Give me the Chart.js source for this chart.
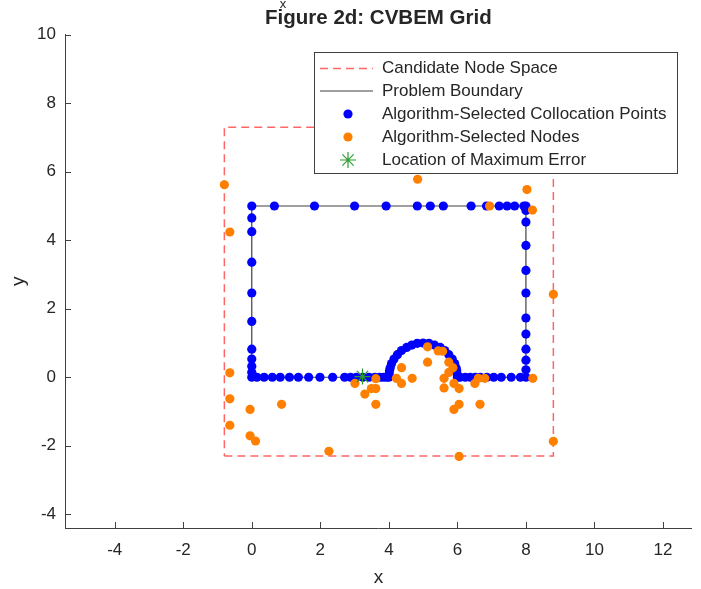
<!DOCTYPE html>
<html>
<head>
<meta charset="utf-8">
<script src="https://cdn.jsdelivr.net/npm/chart.js@4.4.1/dist/chart.umd.min.js"></script>
<style>
  html, body { margin: 0; padding: 0; background: #fff; }
  canvas { display: block; }
</style>
</head>
<body>
<canvas id="cvbemChart" width="701" height="589"></canvas>
<script>
// Ticks
const xTicks = [-4, -2, 0, 2, 4, 6, 8, 10, 12];
const yTicks = [-4, -2, 0, 2, 4, 6, 8, 10];

// Candidate node space (dashed square)
const candidateX = [-0.8, 8.8, 8.8, -0.8, -0.8];
const candidateY = [-2.3, -2.3, 7.3, 7.3, -2.3];

// Problem boundary: 8 x 5 box with a half-circle bump on the bottom edge
const boundaryX = [0, 4, 4.034, 4.134, 4.293, 4.5, 4.741, 5, 5.259, 5.5, 5.707, 5.866, 5.966, 6, 8, 8, 0, 0];
const boundaryY = [0, 0, 0.259, 0.5, 0.707, 0.866, 0.966, 1, 0.966, 0.866, 0.707, 0.5, 0.259, 0, 0, 5, 5, 0];

// Algorithm-selected collocation points
const collocX = [
  0, 0.66, 1.83, 3.0, 3.92, 4.83, 5.21, 5.59, 6.40, 6.85, 7.22, 7.45, 7.67, 7.94, 8,
  8, 8, 8, 8, 8, 8, 8, 8, 8, 8, 8,
  0, 0, 0, 0, 0, 0, 0, 0, 0, 0,
  0.15, 0.36, 0.6, 0.83, 1.1, 1.36, 1.66, 1.99, 2.36, 2.71, 2.88, 3.05, 3.24, 3.42, 3.59, 3.73, 3.83, 3.93, 4.0,
  4.01, 4.02, 4.04, 4.08, 4.15, 4.25, 4.37, 4.52, 4.67, 4.83, 5.0, 5.17, 5.33, 5.5, 5.63, 5.75, 5.85, 5.92, 5.96, 5.98, 5.99, 6.0,
  6.08, 6.23, 6.37, 6.52, 6.67, 6.86, 7.06, 7.28, 7.57, 7.84
];
const collocY = [
  5, 5, 5, 5, 5, 5, 5, 5, 5, 5, 5, 5, 5, 5, 5,
  4.87, 4.53, 3.85, 3.12, 2.46, 1.73, 1.26, 0.82, 0.5, 0.22, 0,
  4.65, 4.25, 3.36, 2.46, 1.63, 0.82, 0.53, 0.32, 0.15, 0,
  0, 0, 0, 0, 0, 0, 0, 0, 0, 0, 0, 0, 0, 0, 0, 0, 0, 0, 0,
  0.1, 0.2, 0.28, 0.4, 0.53, 0.66, 0.78, 0.87, 0.94, 0.99, 1.0, 0.99, 0.94, 0.87, 0.78, 0.66, 0.53, 0.4, 0.28, 0.2, 0.1, 0,
  0, 0, 0, 0, 0, 0, 0, 0, 0, 0
];

// Algorithm-selected nodes
const nodeX = [
  -0.8, -0.64, -0.64, -0.64, -0.64, -0.05, 0.87, -0.05, 0.11, 2.25,
  3.01, 3.62, 3.3, 3.49, 3.62, 3.62, 4.84, 6.94, 8.03, 8.19,
  8.8, 8.8, 6.05, 8.2, 4.37, 4.22, 4.37, 4.68, 5.13, 5.13,
  5.44, 5.57, 5.75, 5.87, 5.75, 5.61, 5.61, 5.9, 6.05, 6.05,
  5.9, 6.51, 6.61, 6.8, 6.66
];
const nodeY = [
  5.62, 4.24, 0.13, -0.63, -1.40, -0.94, -0.79, -1.71, -1.86, -2.16,
  -0.18, -0.04, -0.49, -0.33, -0.33, -0.79, 5.78, 5.0, 5.48, 4.88,
  2.42, -1.87, -2.31, -0.03, 0.28, -0.03, -0.18, -0.03, 0.89, 0.44,
  0.77, 0.76, 0.44, 0.28, 0.14, -0.03, -0.31, -0.18, -0.33, -0.79,
  -0.94, -0.18, -0.03, -0.03, -0.79
];

// Location of maximum error
const maxErrX = [3.23];
const maxErrY = [0.02];

const toPoints = (xs, ys) => xs.map((x, i) => ({ x: x, y: ys[i] }));

const FONT = "'Liberation Sans', Arial, Helvetica, sans-serif";
const TEXT = "#262626";
const AXIS = "#404040";

// Inward tick marks (MATLAB style)
const innerTicks = {
  id: "innerTicks",
  afterDraw(chart) {
    const { ctx, chartArea, scales } = chart;
    ctx.save();
    ctx.strokeStyle = AXIS;
    ctx.lineWidth = 1;
    ctx.beginPath();
    xTicks.forEach((v) => {
      const px = Math.round(scales.x.getPixelForValue(v)) + 0.5;
      ctx.moveTo(px, chartArea.bottom);
      ctx.lineTo(px, chartArea.bottom - 6);
    });
    yTicks.forEach((v) => {
      const py = Math.round(scales.y.getPixelForValue(v)) + 0.5;
      ctx.moveTo(chartArea.left, py);
      ctx.lineTo(chartArea.left + 6, py);
    });
    ctx.stroke();
    // stray label above the title
    ctx.fillStyle = TEXT;
    ctx.font = "13px " + FONT;
    ctx.textAlign = "center";
    ctx.textBaseline = "middle";
    ctx.fillText("x", 283, 4);
    ctx.restore();
  },
};

// Legend box drawn in the upper right of the axes
const boxLegend = {
  id: "boxLegend",
  afterDraw(chart) {
    const ctx = chart.ctx;
    const sets = chart.data.datasets;
    const left = 314.5, top = 52.5, right = 677.5, bottom = 173.5;
    const rows = [68.5, 91, 114, 137, 160];
    ctx.save();
    ctx.fillStyle = "#fff";
    ctx.fillRect(left, top, right - left, bottom - top);
    ctx.strokeStyle = AXIS;
    ctx.lineWidth = 1;
    ctx.strokeRect(left, top, right - left, bottom - top);

    sets.forEach((ds, i) => {
      const y = rows[i];
      ctx.save();
      if (ds.showLine) {
        ctx.strokeStyle = ds.borderColor;
        ctx.lineWidth = ds.borderWidth;
        ctx.setLineDash(ds.borderDash || []);
        ctx.beginPath();
        ctx.moveTo(320, y);
        ctx.lineTo(373, y);
        ctx.stroke();
      } else {
        ctx.fillStyle = ds.backgroundColor;
        ctx.strokeStyle = ds.borderColor;
        ctx.lineWidth = ds.borderWidth;
        Chart.helpers.drawPoint(ctx, {
          pointStyle: ds.pointStyle,
          radius: ds.pointRadius,
          rotation: 0,
          borderWidth: ds.borderWidth,
        }, 348, y);
      }
      ctx.restore();
      ctx.fillStyle = TEXT;
      ctx.font = "17px " + FONT;
      ctx.textAlign = "left";
      ctx.textBaseline = "middle";
      ctx.fillText(ds.label, 382, y);
    });
    ctx.restore();
  },
};

const ctx = document.getElementById("cvbemChart").getContext("2d");
new Chart(ctx, {
  type: "scatter",
  data: {
    datasets: [
      {
        label: "Candidate Node Space",
        data: toPoints(candidateX, candidateY),
        showLine: true,
        borderColor: "rgba(255, 0, 0, 0.6)",
        borderDash: [8, 5],
        borderWidth: 1.5,
        pointRadius: 0,
        order: 4,
      },
      {
        label: "Problem Boundary",
        data: toPoints(boundaryX, boundaryY),
        showLine: true,
        borderColor: "#404040",
        borderWidth: 1.2,
        pointRadius: 0,
        order: 3,
      },
      {
        label: "Algorithm-Selected Collocation Points",
        data: toPoints(collocX, collocY),
        pointStyle: "circle",
        pointRadius: 4.6,
        backgroundColor: "#0000ff",
        borderColor: "#0000ff",
        borderWidth: 0,
        order: 2,
      },
      {
        label: "Algorithm-Selected Nodes",
        data: toPoints(nodeX, nodeY),
        pointStyle: "circle",
        pointRadius: 4.6,
        backgroundColor: "#ff8000",
        borderColor: "#ff8000",
        borderWidth: 0,
        order: 1,
      },
      {
        label: "Location of Maximum Error",
        data: toPoints(maxErrX, maxErrY),
        pointStyle: "star",
        pointRadius: 8,
        backgroundColor: "#2e9b2e",
        borderColor: "#2e9b2e",
        borderWidth: 1.2,
        order: 0,
      },
    ],
  },
  options: {
    responsive: false,
    animation: false,
    layout: { padding: { top: 0, left: 0, right: 9, bottom: 0 } },
    plugins: {
      legend: { display: false },
      tooltip: { enabled: false },
      title: {
        display: true,
        text: "Figure 2d: CVBEM Grid",
        fullSize: false,
        color: TEXT,
        font: { family: FONT, size: 20.5, weight: "bold", lineHeight: 1.2 },
        padding: { top: 6, bottom: 4.1 },
      },
    },
    scales: {
      x: {
        type: "linear",
        position: "bottom",
        min: -5.45,
        max: 12.84,
        afterBuildTicks: (scale) => { scale.ticks = xTicks.map((v) => ({ value: v })); },
        afterFit: (scale) => { scale.height = 61; },
        grid: { display: false, drawTicks: false },
        border: { display: true, color: AXIS, width: 1 },
        ticks: {
          color: TEXT,
          font: { family: FONT, size: 17 },
          padding: 12,
          maxRotation: 0,
          autoSkip: false,
        },
        title: {
          display: true,
          text: "x",
          color: TEXT,
          font: { family: FONT, size: 19 },
          padding: { top: 0, bottom: 0 },
        },
      },
      y: {
        type: "linear",
        position: "left",
        min: -4.4,
        max: 10,
        afterBuildTicks: (scale) => { scale.ticks = yTicks.map((v) => ({ value: v })); },
        afterFit: (scale) => { scale.width = 65; },
        grid: { display: false, drawTicks: false },
        border: { display: true, color: AXIS, width: 1 },
        ticks: {
          color: TEXT,
          font: { family: FONT, size: 17 },
          padding: 9,
          autoSkip: false,
        },
        title: {
          display: true,
          text: "y",
          color: TEXT,
          font: { family: FONT, size: 19 },
          padding: { top: 7, bottom: 0 },
        },
      },
    },
  },
  plugins: [innerTicks, boxLegend],
});
</script>
</body>
</html>
